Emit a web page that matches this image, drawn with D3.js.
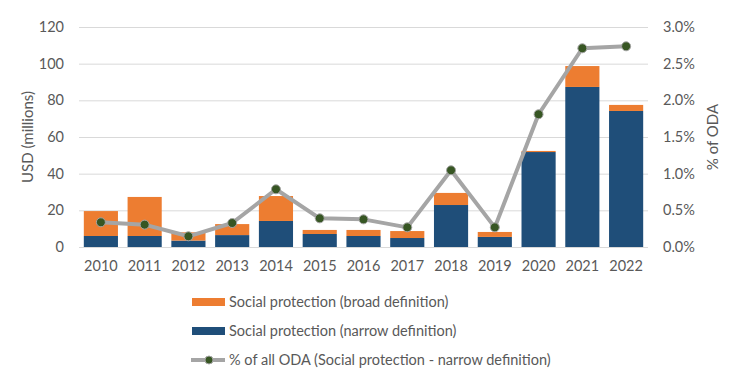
<!DOCTYPE html>
<html><head><meta charset="utf-8">
<script src="https://cdn.jsdelivr.net/npm/d3@7"></script>
<style>body{margin:0;background:#fff}svg{display:block;font-family:Lato,"Open Sans",sans-serif}</style>
</head><body><svg id="c" width="733" height="379"></svg>
<script>
const years = ["2010","2011","2012","2013","2014","2015","2016","2017","2018","2019","2020","2021","2022"];
const narrow = [6.0,6.0,3.5,6.5,14.2,7.1,6.0,4.9,22.9,5.5,51.8,87.3,74.2];
const broad  = [19.6,27.3,8.0,12.5,27.8,9.3,9.3,8.7,29.5,8.2,52.4,98.7,77.5];
const pctODA = [0.337,0.305,0.146,0.327,0.787,0.391,0.377,0.268,1.046,0.268,1.81,2.71,2.737];
const leftTicks = [0,20,40,60,80,100,120];
const rightTicks = [0,0.5,1.0,1.5,2.0,2.5,3.0];
const legendLabels = ["Social protection (broad definition)","Social protection (narrow definition)","% of all ODA (Social protection - narrow definition)"];

const C = {orange:"#ED7D31", blue:"#1F4E79", gray:"#A5A5A5", green:"#375623", text:"#595959", grid:"#D9D9D9"};
const FS = "14.5px";
const svg = d3.select("#c");
const m = {l:79, r:648, t:27, b:247};
const x = d3.scaleBand().domain(years).range([m.l, m.r]).paddingInner(0.22).paddingOuter(0.11);
const y = d3.scaleLinear().domain([0,120]).range([m.b, m.t]);
const y2 = d3.scaleLinear().domain([0,3]).range([m.b, m.t]);

// grid
svg.append("g").selectAll("line").data(leftTicks).join("line")
  .attr("x1", m.l).attr("x2", m.r).attr("y1", d=>y(d)+0.5).attr("y2", d=>y(d)+0.5)
  .attr("stroke", C.grid).attr("stroke-width", 1);

// left axis
const la = svg.append("g").attr("transform",`translate(${m.l-15},0)`)
  .call(d3.axisLeft(y).tickValues(leftTicks).tickSize(0).tickPadding(0));
la.select(".domain").remove();
la.selectAll("text").attr("fill", C.text).style("font-size",FS).style("font-family","Lato");

// right axis
const ra = svg.append("g").attr("transform",`translate(${m.r+15},0)`)
  .call(d3.axisRight(y2).tickValues(rightTicks).tickSize(0).tickPadding(0).tickFormat(d=>d.toFixed(1)+"%"));
ra.select(".domain").remove();
ra.selectAll("text").attr("fill", C.text).style("font-size",FS).style("font-family","Lato");

// x axis
const xa = svg.append("g").attr("transform",`translate(0,${m.b+14})`)
  .call(d3.axisBottom(x).tickSize(0).tickPadding(0));
xa.select(".domain").remove();
xa.selectAll("text").attr("fill", C.text).style("font-size",FS).style("font-family","Lato");

// bars
svg.append("g").selectAll("rect").data(years).join("rect")
  .attr("x", d=>x(d)).attr("width", x.bandwidth())
  .attr("y", (d,i)=>y(narrow[i])).attr("height",(d,i)=>y(0)-y(narrow[i]))
  .attr("fill", C.blue);
svg.append("g").selectAll("rect").data(years).join("rect")
  .attr("x", d=>x(d)).attr("width", x.bandwidth())
  .attr("y", (d,i)=>y(broad[i])).attr("height",(d,i)=>y(narrow[i])-y(broad[i]))
  .attr("fill", C.orange);

// line
const line = d3.line().x((d,i)=>x(years[i])+x.bandwidth()/2).y(d=>y2(d));
svg.append("path").datum(pctODA).attr("d", line).attr("fill","none")
  .attr("stroke", C.gray).attr("stroke-width", 4).attr("stroke-linejoin","round");
svg.append("g").selectAll("circle").data(pctODA).join("circle")
  .attr("cx",(d,i)=>x(years[i])+x.bandwidth()/2).attr("cy", d=>y2(d)).attr("r",4.5)
  .attr("fill", C.green).attr("stroke", C.gray).attr("stroke-width",1);

// axis titles
svg.append("text").attr("transform","translate(33,137) rotate(-90)").attr("text-anchor","middle")
  .attr("fill", C.text).style("font-size","15px").text("USD (millions)");
svg.append("text").attr("transform","translate(718,137) rotate(-90)").attr("text-anchor","middle")
  .attr("fill", C.text).style("font-size","15px").text("% of ODA");

// legend
const lg = svg.append("g");
const rowsY = [302, 331, 360];
lg.append("rect").attr("x",192).attr("y",rowsY[0]-4).attr("width",33).attr("height",8).attr("fill",C.orange);
lg.append("rect").attr("x",192).attr("y",rowsY[1]-4).attr("width",33).attr("height",8).attr("fill",C.blue);
lg.append("line").attr("x1",191).attr("x2",225).attr("y1",rowsY[2]).attr("y2",rowsY[2]).attr("stroke",C.gray).attr("stroke-width",4);
lg.append("circle").attr("cx",209).attr("cy",rowsY[2]).attr("r",4).attr("fill",C.green).attr("stroke",C.gray).attr("stroke-width",1);
lg.selectAll("text").data(legendLabels).join("text")
  .attr("x",229).attr("y",(d,i)=>rowsY[i]).attr("dy","0.35em")
  .attr("fill", C.text).style("font-size",FS).text(d=>d);
</script></body></html>
